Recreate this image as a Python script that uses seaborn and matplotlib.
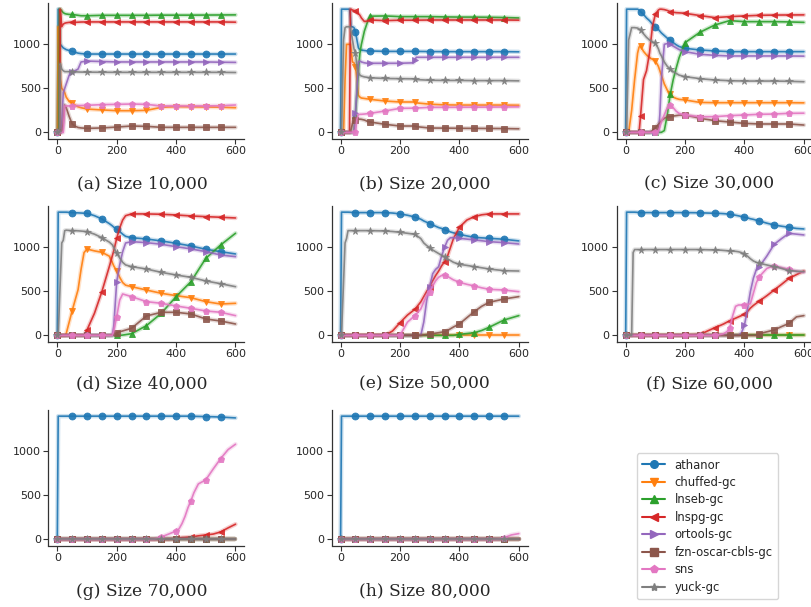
import matplotlib
matplotlib.use("Agg")
import matplotlib.pyplot as plt
import seaborn as sns
from matplotlib.lines import Line2D

sns.set_theme(style="ticks")
plt.rcParams["font.family"] = ["DejaVu Sans"]

SOLVERS = ["athanor", "chuffed-gc", "lnseb-gc", "lnspg-gc", "ortools-gc",
           "fzn-oscar-cbls-gc", "sns", "yuck-gc"]
COLORS = ["#1f77b4", "#ff7f0e", "#2ca02c", "#d62728", "#9467bd",
          "#8c564b", "#e377c2", "#7f7f7f"]
MARKERS = ["o", "v", "^", "<", ">", "s", "p", "*"]

# ---- (a) Size 10,000 ----
T_A = [0, 3, 5, 8, 10, 15, 20, 25, 30, 40, 50, 60, 70, 80, 100, 150, 200, 250, 300, 350, 400, 450, 500, 550, 600]
a_athanor = [0, 1400, 1400, 1050, 1000, 980, 960, 950, 940, 930, 920, 910, 900, 895, 890, 890, 890, 890, 890, 890, 890, 890, 890, 890, 890]
a_chuffed = [0, 1200, 1000, 700, 600, 500, 480, 450, 400, 350, 330, 310, 290, 280, 265, 255, 246, 246, 250, 284, 292, 290, 288, 285, 280]
a_lnseb = [0, 0, 0, 1400, 1400, 1380, 1360, 1350, 1345, 1340, 1340, 1335, 1330, 1325, 1325, 1330, 1330, 1330, 1330, 1332, 1332, 1332, 1333, 1334, 1335]
a_lnspg = [0, 0, 0, 0, 1400, 1200, 1230, 1240, 1245, 1250, 1250, 1250, 1252, 1254, 1255, 1255, 1255, 1255, 1255, 1255, 1255, 1255, 1255, 1255, 1252]
a_ortools = [0, 0, 0, 0, 0, 100, 450, 500, 550, 650, 690, 700, 720, 800, 810, 805, 800, 800, 800, 800, 800, 800, 800, 797, 795]
a_oscar = [0, 0, 0, 0, 0, 0, 100, 310, 280, 180, 95, 70, 55, 50, 45, 50, 60, 72, 68, 57, 57, 57, 57, 57, 57]
a_sns = [0, 0, 0, 0, 0, 0, 0, 300, 300, 300, 300, 302, 304, 305, 307, 315, 318, 322, 318, 300, 300, 300, 300, 303, 311]
a_yuck = [0, 0, 0, 0, 780, 720, 700, 690, 690, 690, 690, 688, 686, 685, 684, 683, 682, 682, 682, 682, 682, 682, 682, 682, 680]

# ---- (b) Size 20,000 ----
T_B = [0, 3, 10, 15, 20, 25, 30, 33, 35, 40, 45, 50, 55, 60, 65, 70, 80, 90, 100, 150, 200, 245, 250, 255, 300, 350, 400, 450, 500, 550, 600]
b_athanor = [0, 1400, 1400, 1400, 1400, 1400, 1400, 1300, 1200, 1200, 1190, 1140, 1050, 960, 940, 935, 930, 925, 925, 920, 920, 920, 920, 920, 918, 917, 917, 917, 917, 917, 915]
b_chuffed = [0, 0, 0, 600, 1000, 1000, 1000, 1000, 950, 800, 790, 747, 600, 420, 400, 390, 385, 380, 375, 356, 345, 345, 345, 335, 320, 312, 310, 310, 310, 310, 308]
b_lnseb = [0, 0, 0, 0, 0, 0, 0, 0, 0, 0, 0, 200, 450, 700, 900, 1000, 1150, 1250, 1320, 1323, 1315, 1315, 1315, 1315, 1315, 1312, 1310, 1310, 1308, 1305, 1300]
b_lnspg = [0, 0, 0, 0, 0, 0, 0, 1400, 1400, 1390, 1385, 1380, 1360, 1350, 1330, 1300, 1260, 1265, 1277, 1270, 1275, 1275, 1275, 1275, 1277, 1277, 1277, 1277, 1277, 1277, 1275]
b_ortools = [0, 0, 0, 0, 0, 0, 0, 0, 0, 0, 0, 224, 500, 800, 810, 800, 790, 785, 785, 785, 785, 790, 822, 853, 853, 853, 853, 853, 853, 853, 853]
b_oscar = [0, 0, 0, 0, 0, 0, 0, 0, 30, 100, 130, 140, 150, 150, 150, 148, 140, 125, 117, 91, 72, 72, 72, 65, 49, 48, 46, 45, 44, 43, 40]
b_sns = [0, 0, 0, 0, 0, 0, 0, 0, 0, 0, 0, 0, 150, 200, 205, 205, 208, 212, 216, 243, 273, 275, 275, 276, 284, 284, 285, 286, 287, 288, 290]
b_yuck = [0, 0, 1050, 1190, 1200, 1200, 1200, 1190, 1150, 1050, 950, 900, 750, 680, 650, 640, 630, 625, 620, 612, 610, 608, 605, 600, 592, 590, 590, 588, 588, 588, 585]

# ---- (c) Size 30,000 ----
T_C = [0, 3, 10, 20, 30, 40, 45, 50, 60, 70, 80, 90, 100, 110, 115, 120, 130, 140, 150, 160, 170, 180, 200, 250, 300, 350, 400, 450, 500, 550, 600]
c_athanor = [0, 1400, 1400, 1400, 1400, 1400, 1390, 1371, 1340, 1300, 1270, 1230, 1200, 1170, 1150, 1130, 1100, 1070, 1050, 1020, 995, 975, 955, 936, 925, 917, 917, 917, 917, 917, 917]
c_chuffed = [0, 0, 0, 250, 600, 900, 970, 980, 920, 880, 850, 830, 811, 750, 700, 650, 550, 480, 432, 400, 385, 375, 368, 340, 337, 337, 337, 337, 337, 337, 335]
c_lnseb = [0, 0, 0, 0, 0, 0, 0, 0, 0, 0, 0, 0, 0, 0, 0, 0, 20, 200, 432, 600, 730, 850, 1020, 1137, 1220, 1270, 1258, 1258, 1258, 1255, 1250]
c_lnspg = [0, 0, 0, 0, 0, 0, 0, 186, 600, 700, 900, 1200, 1345, 1390, 1400, 1400, 1395, 1385, 1372, 1365, 1360, 1358, 1353, 1327, 1304, 1315, 1323, 1330, 1333, 1334, 1335]
c_ortools = [0, 0, 0, 0, 0, 0, 0, 0, 0, 0, 0, 0, 0, 0, 200, 600, 1000, 1010, 1000, 980, 960, 940, 917, 887, 875, 868, 868, 868, 868, 868, 866]
c_oscar = [0, 0, 0, 0, 0, 0, 0, 0, 0, 0, 0, 20, 53, 90, 110, 130, 160, 175, 178, 185, 190, 195, 197, 160, 133, 117, 102, 95, 95, 95, 83]
c_sns = [0, 0, 0, 0, 0, 0, 0, 0, 0, 0, 0, 0, 0, 20, 60, 120, 200, 280, 307, 280, 240, 215, 197, 178, 178, 190, 197, 205, 208, 216, 218]
c_yuck = [0, 0, 1050, 1190, 1190, 1185, 1175, 1164, 1120, 1080, 1050, 1030, 1012, 950, 900, 870, 800, 750, 717, 690, 670, 650, 633, 610, 595, 587, 583, 583, 583, 580, 575]

# ---- (d) Size 40,000 ----
T_D = [0, 3, 15, 20, 25, 30, 50, 60, 70, 80, 90, 100, 125, 150, 175, 185, 190, 200, 210, 220, 230, 250, 300, 350, 400, 450, 500, 550, 600]
d_athanor = [0, 1400, 1400, 1400, 1400, 1400, 1395, 1393, 1392, 1390, 1388, 1387, 1360, 1323, 1270, 1245, 1230, 1205, 1180, 1150, 1125, 1110, 1095, 1073, 1046, 1016, 978, 951, 925]
d_chuffed = [0, 0, 0, 0, 0, 20, 280, 400, 520, 750, 940, 981, 960, 944, 900, 830, 790, 731, 660, 600, 570, 553, 515, 478, 451, 428, 383, 356, 364]
d_lnseb = [0, 0, 0, 0, 0, 0, 0, 0, 0, 0, 0, 0, 0, 0, 0, 0, 0, 0, 0, 3, 8, 19, 110, 250, 440, 610, 875, 1027, 1160]
d_lnspg = [0, 0, 0, 0, 0, 0, 0, 0, 0, 0, 0, 61, 250, 496, 780, 900, 960, 1103, 1220, 1310, 1360, 1380, 1380, 1376, 1368, 1357, 1349, 1342, 1334]
d_ortools = [0, 0, 0, 0, 0, 0, 0, 0, 0, 0, 0, 0, 0, 0, 0, 0, 100, 610, 800, 950, 1050, 1065, 1054, 1035, 1008, 982, 951, 913, 894]
d_oscar = [0, 0, 0, 0, 0, 0, 0, 0, 0, 0, 0, 0, 0, 0, 0, 5, 10, 30, 40, 50, 60, 80, 220, 262, 262, 243, 186, 163, 129]
d_sns = [0, 0, 0, 0, 0, 0, 0, 0, 0, 0, 0, 0, 0, 0, 0, 0, 50, 212, 400, 470, 460, 440, 383, 364, 334, 307, 277, 262, 224]
d_yuck = [0, 0, 1050, 1080, 1190, 1195, 1190, 1190, 1188, 1185, 1182, 1179, 1150, 1110, 1060, 1030, 1000, 932, 880, 830, 800, 781, 754, 716, 686, 659, 618, 587, 553]

# ---- (e) Size 50,000 ----
T_E = [0, 3, 15, 20, 25, 50, 100, 150, 175, 200, 225, 250, 270, 280, 290, 300, 310, 320, 330, 340, 350, 360, 370, 380, 400, 425, 450, 475, 500, 550, 600]
e_athanor = [0, 1400, 1400, 1400, 1400, 1395, 1395, 1395, 1390, 1380, 1365, 1345, 1320, 1300, 1285, 1270, 1255, 1240, 1225, 1215, 1201, 1190, 1175, 1165, 1148, 1130, 1114, 1108, 1103, 1092, 1073]
e_chuffed = [0, 0, 0, 0, 0, 0, 0, 0, 0, 0, 0, 0, 0, 0, 0, 0, 0, 0, 0, 0, 0, 0, 0, 0, 0, 0, 0, 0, 0, 0, 0]
e_lnseb = [0, 0, 0, 0, 0, 0, 0, 0, 0, 0, 0, 0, 0, 0, 0, 0, 0, 0, 0, 0, 0, 0, 0, 0, 11, 20, 30, 55, 91, 174, 224]
e_lnspg = [0, 0, 0, 0, 0, 0, 0, 0, 50, 144, 230, 296, 380, 440, 500, 553, 620, 680, 730, 790, 838, 900, 1000, 1100, 1228, 1310, 1349, 1370, 1380, 1380, 1380]
e_ortools = [0, 0, 0, 0, 0, 0, 0, 0, 0, 0, 0, 0, 0, 150, 400, 553, 700, 750, 780, 900, 1000, 1080, 1110, 1110, 1103, 1094, 1084, 1075, 1065, 1054, 1038]
e_oscar = [0, 0, 0, 0, 0, 0, 0, 0, 0, 0, 0, 0, 0, 5, 10, 15, 20, 25, 30, 36, 42, 55, 75, 95, 129, 200, 269, 330, 375, 413, 440]
e_sns = [0, 0, 0, 0, 0, 0, 0, 0, 0, 0, 150, 224, 300, 380, 450, 496, 560, 620, 660, 680, 686, 670, 650, 630, 603, 580, 561, 540, 523, 515, 496]
e_yuck = [0, 0, 1050, 1100, 1190, 1190, 1190, 1186, 1180, 1171, 1160, 1148, 1100, 1050, 1020, 997, 970, 950, 930, 910, 894, 870, 850, 830, 807, 795, 781, 768, 754, 735, 731]

# ---- (f) Size 60,000 ----
T_F = [0, 3, 20, 25, 30, 50, 100, 150, 200, 250, 300, 320, 330, 340, 350, 360, 370, 380, 390, 400, 410, 420, 430, 440, 450, 475, 500, 525, 550, 575, 600]
f_athanor = [0, 1400, 1400, 1400, 1400, 1395, 1395, 1395, 1395, 1393, 1387, 1385, 1383, 1380, 1376, 1370, 1365, 1358, 1350, 1342, 1335, 1325, 1318, 1308, 1300, 1275, 1254, 1240, 1228, 1215, 1209]
f_chuffed = [0, 0, 0, 0, 0, 0, 0, 0, 0, 0, 0, 0, 0, 0, 0, 0, 0, 0, 0, 0, 0, 0, 0, 0, 0, 0, 0, 0, 0, 0, 0]
f_lnseb = [0, 0, 0, 0, 0, 0, 0, 0, 0, 0, 0, 0, 0, 0, 0, 0, 0, 0, 0, 0, 0, 0, 0, 0, 0, 0, 0, 0, 0, 0, 0]
f_lnspg = [0, 0, 0, 0, 0, 0, 0, 0, 0, 10, 87, 115, 130, 148, 163, 180, 195, 210, 225, 239, 270, 310, 340, 365, 390, 450, 515, 580, 648, 690, 731]
f_ortools = [0, 0, 0, 0, 0, 0, 0, 0, 0, 0, 0, 0, 0, 0, 0, 0, 0, 0, 30, 117, 300, 500, 650, 750, 781, 900, 1035, 1100, 1160, 1150, 1141]
f_oscar = [0, 0, 0, 0, 0, 0, 0, 0, 0, 0, 0, 0, 0, 0, 0, 0, 0, 0, 0, 0, 0, 0, 0, 0, 19, 40, 61, 100, 136, 210, 224]
f_sns = [0, 0, 0, 0, 0, 0, 0, 0, 0, 0, 0, 10, 20, 40, 80, 220, 330, 345, 345, 345, 350, 360, 480, 600, 667, 760, 792, 770, 750, 730, 716]
f_yuck = [0, 0, 0, 940, 975, 975, 975, 975, 975, 975, 970, 968, 965, 962, 959, 957, 955, 950, 940, 921, 900, 870, 845, 830, 819, 800, 781, 760, 735, 728, 724]

# ---- (g) Size 70,000 ----
T_G = [0, 3, 50, 100, 150, 200, 250, 300, 325, 350, 375, 400, 410, 420, 430, 440, 450, 460, 475, 500, 525, 550, 575, 600]
g_athanor = [0, 1400, 1400, 1400, 1400, 1400, 1400, 1400, 1400, 1400, 1400, 1400, 1400, 1400, 1400, 1400, 1400, 1398, 1397, 1395, 1393, 1390, 1385, 1380]
g_chuffed = [0, 0, 0, 0, 0, 0, 0, 0, 0, 0, 0, 0, 0, 0, 0, 0, 0, 0, 0, 0, 0, 0, 0, 0]
g_lnseb = [0, 0, 0, 0, 0, 0, 0, 0, 0, 0, 0, 0, 0, 0, 0, 0, 0, 0, 0, 0, 0, 0, 0, 0]
g_lnspg = [0, 0, 0, 0, 0, 0, 0, 0, 0, 0, 0, 11, 15, 20, 22, 25, 27, 32, 40, 50, 60, 84, 130, 172]
g_ortools = [0, 0, 0, 0, 0, 0, 0, 0, 0, 0, 0, 0, 0, 0, 0, 0, 0, 0, 0, 0, 0, 0, 0, 0]
g_oscar = [0, 0, 0, 0, 0, 0, 0, 0, 0, 0, 0, 0, 0, 0, 0, 0, 0, 0, 0, 0, 0, 0, 0, 0]
g_sns = [0, 0, 0, 0, 0, 0, 0, 0, 0, 27, 60, 95, 120, 180, 260, 360, 439, 530, 630, 676, 800, 917, 1020, 1081]
g_yuck = [0, 0, 0, 0, 0, 0, 0, 0, 0, 0, 0, 0, 0, 0, 0, 0, 0, 0, 0, 0, 0, 0, 0, 0]

# ---- (h) Size 80,000 ----
T_H = [0, 3, 50, 100, 150, 200, 250, 300, 350, 400, 450, 500, 525, 540, 550, 575, 600]
h_athanor = [0, 1400, 1400, 1400, 1400, 1400, 1400, 1400, 1400, 1400, 1400, 1400, 1400, 1400, 1400, 1400, 1400]
h_chuffed = [0, 0, 0, 0, 0, 0, 0, 0, 0, 0, 0, 0, 0, 0, 0, 0, 0]
h_lnseb = [0, 0, 0, 0, 0, 0, 0, 0, 0, 0, 0, 0, 0, 0, 0, 0, 0]
h_lnspg = [0, 0, 0, 0, 0, 0, 0, 0, 0, 0, 0, 0, 0, 0, 0, 0, 0]
h_ortools = [0, 0, 0, 0, 0, 0, 0, 0, 0, 0, 0, 0, 0, 0, 0, 0, 0]
h_oscar = [0, 0, 0, 0, 0, 0, 0, 0, 0, 0, 0, 0, 0, 0, 0, 0, 0]
h_sns = [0, 0, 0, 0, 0, 0, 0, 0, 0, 0, 0, 0, 0, 5, 19, 50, 65]
h_yuck = [0, 0, 0, 0, 0, 0, 0, 0, 0, 0, 0, 0, 0, 0, 0, 0, 0]

CAPTIONS = ["(a) Size 10,000", "(b) Size 20,000", "(c) Size 30,000",
            "(d) Size 40,000", "(e) Size 50,000", "(f) Size 60,000",
            "(g) Size 70,000", "(h) Size 80,000"]

panels = [
    (T_A, [a_athanor, a_chuffed, a_lnseb, a_lnspg, a_ortools, a_oscar, a_sns, a_yuck]),
    (T_B, [b_athanor, b_chuffed, b_lnseb, b_lnspg, b_ortools, b_oscar, b_sns, b_yuck]),
    (T_C, [c_athanor, c_chuffed, c_lnseb, c_lnspg, c_ortools, c_oscar, c_sns, c_yuck]),
    (T_D, [d_athanor, d_chuffed, d_lnseb, d_lnspg, d_ortools, d_oscar, d_sns, d_yuck]),
    (T_E, [e_athanor, e_chuffed, e_lnseb, e_lnspg, e_ortools, e_oscar, e_sns, e_yuck]),
    (T_F, [f_athanor, f_chuffed, f_lnseb, f_lnspg, f_ortools, f_oscar, f_sns, f_yuck]),
    (T_G, [g_athanor, g_chuffed, g_lnseb, g_lnspg, g_ortools, g_oscar, g_sns, g_yuck]),
    (T_H, [h_athanor, h_chuffed, h_lnseb, h_lnspg, h_ortools, h_oscar, h_sns, h_yuck]),
]

W, H = 812, 607
fig = plt.figure(figsize=(W / 100, H / 100), dpi=100)

col_left = [48.4, 331.7, 616.8]
row_top = [3.0, 206.0, 410.0]
ax_w, ax_h = 196.0, 135.5
cap_x = [142, 424.5, 709]
cap_y = [184, 384, 591]

for k, (t, series) in enumerate(panels):
    r, c = divmod(k, 3)
    ax = fig.add_axes([col_left[c] / W, 1 - (row_top[r] + ax_h) / H, ax_w / W, ax_h / H])
    marks = [i for i, v in enumerate(t) if v % 50 == 0 and v <= 550]
    for name, color, marker, vals in zip(SOLVERS, COLORS, MARKERS, series):
        # soft halo under each trace
        sns.lineplot(x=t, y=vals, ax=ax, color=color, linewidth=3.2, alpha=0.22,
                     legend=False, errorbar=None)
        sns.lineplot(x=t, y=vals, ax=ax, color=color, linewidth=1.2,
                     marker=marker, markevery=marks, markersize=5.0 if marker != "*" else 5.5,
                     markeredgecolor=color, markeredgewidth=0.6, alpha=0.9,
                     legend=False, errorbar=None)
    ax.set_xlim(-30, 630)
    ax.set_ylim(-70, 1470)
    ax.set_xticks([0, 200, 400, 600])
    ax.set_yticks([0, 500, 1000])
    ax.set_xlabel("")
    ax.set_ylabel("")
    ax.tick_params(labelsize=8, length=3.5, width=0.8, pad=2, color="#333333")
    for s in ("left", "bottom"):
        ax.spines[s].set_linewidth(0.9)
        ax.spines[s].set_color("#333333")
    sns.despine(ax=ax)
    fig.text(cap_x[c] / W, 1 - cap_y[r] / H, CAPTIONS[k], ha="center", va="center",
             family="DejaVu Serif", fontsize=12.3)

handles = [Line2D([], [], color=col, marker=m, markersize=5.5 if m != "*" else 6,
                  markeredgecolor=col, linewidth=1.5)
           for col, m in zip(COLORS, MARKERS)]
fig.legend(handles, SOLVERS, loc="upper left",
           bbox_to_anchor=(636.7 / W, 1 - 453.3 / H), fontsize=8.4,
           frameon=True, edgecolor="#cccccc", fancybox=True, borderpad=0.45,
           borderaxespad=0.0, labelspacing=0.38)

fig.savefig("out.png", dpi=100)
